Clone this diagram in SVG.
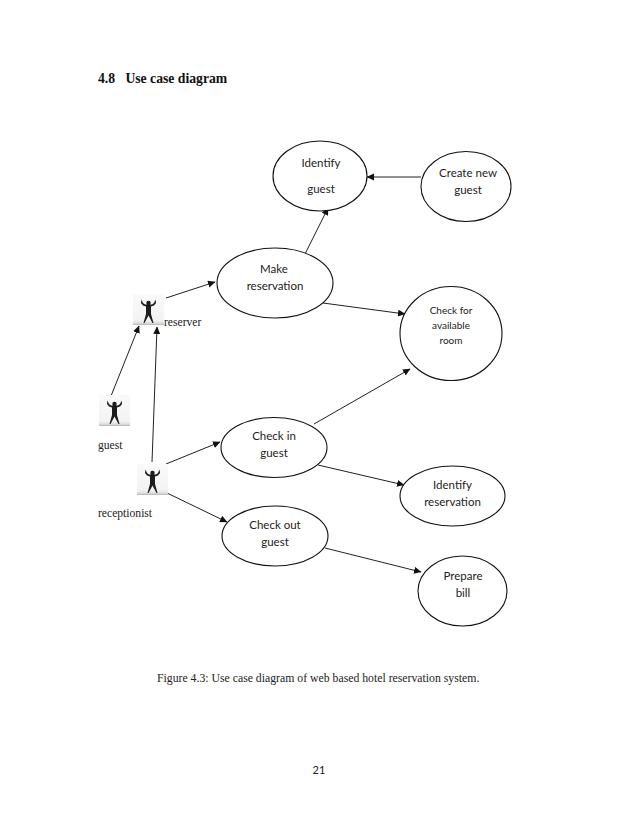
<svg xmlns="http://www.w3.org/2000/svg" width="638" height="826" viewBox="0 0 638 826">
<style>
.n{fill:#fff;stroke:#111;stroke-width:1.1}
.c{stroke:#222;stroke-width:1;fill:none;marker-end:url(#a)}
.t{font-family:Lato,"Open Sans",sans-serif;font-size:11.5px;fill:#222;text-anchor:middle}
.s{font-family:Lato,"Open Sans",sans-serif;font-size:10px;fill:#222;text-anchor:middle}
.r{font-family:"Liberation Serif",serif;font-size:11.6px;fill:#222}
</style>
<defs>
<marker id="a" markerWidth="8" markerHeight="8" refX="7" refY="3.5" orient="auto" markerUnits="userSpaceOnUse"><path d="M0 0L7.500 3.500L0 7Z" fill="#111"/></marker>
<linearGradient id="g" x1="0" y1="0" x2="0" y2="1"><stop offset="0" stop-color="#fafafa"/><stop offset=".84" stop-color="#f3f3f3"/><stop offset=".94" stop-color="#dedede"/><stop offset="1" stop-color="#b4b4b4"/></linearGradient>
<filter id="b" x="-10%" y="-10%" width="120%" height="120%"><feGaussianBlur stdDeviation=".4"/></filter>
<symbol id="p" width="31" height="31" viewBox="0 0 31 31" overflow="visible">
<rect width="31" height="31" fill="url(#g)"/>
<g filter="url(#b)"><path d="M8.500 5.500L8 9L10 11.500L13 12.500L13 20L10.500 29L11.500 29L15.500 21.500L19.500 29L20.500 29L18 20L18 12.500L21 11.500L23 9L22.500 5.500L21 9L19 10.500L12 10.500L10 9Z" fill="#1a1a1a"/><circle cx="15.500" cy="9" r="2.200" fill="#1a1a1a"/></g>
</symbol>
</defs>
<rect width="638" height="826" fill="#fff"/>
<text x="98" y="83" font-family="Liberation Serif, serif" font-size="13.700" font-weight="700" fill="#111" xml:space="preserve">4.8   Use case diagram</text>
<g id="connectors">
<path class="c" d="M166 298L215 282"/>
<path class="c" d="M111 396L139 326"/>
<path class="c" d="M152 462L157 327"/>
<path class="c" d="M166 464L220 442"/>
<path class="c" d="M167 493L227 522"/>
<path class="c" d="M305 254L328 208"/>
<path class="c" d="M421 177L367 177"/>
<path class="c" d="M323 303L405 314"/>
<path class="c" d="M314 424L410 369"/>
<path class="c" d="M318 465L404 485"/>
<path class="c" d="M325 548L421 572"/>
</g>
<g id="reserver"><use href="#p" x="133" y="294"/><text class="r" x="164" y="326">reserver</text></g>
<g id="guest"><use href="#p" x="99" y="395"/><text class="r" x="98" y="449">guest</text></g>
<g id="receptionist"><use href="#p" x="137" y="464"/><text class="r" x="98" y="517">receptionist</text></g>
<g id="identify-guest"><ellipse class="n" cx="320" cy="176" rx="47" ry="35"/><text class="t" x="321" y="167">Identify</text><text class="t" x="321" y="193">guest</text></g>
<g id="create-new-guest"><ellipse class="n" cx="466" cy="186.500" rx="45" ry="35"/><text class="t" x="468" y="177">Create new</text><text class="t" x="468" y="194">guest</text></g>
<g id="make-reservation"><ellipse class="n" cx="275" cy="283" rx="58" ry="35"/><text class="t" x="274" y="273">Make</text><text class="t" x="275" y="290">reservation</text></g>
<g id="check-available-room"><ellipse class="n" cx="451" cy="333.500" rx="51" ry="47"/><text class="s" x="451" y="314">Check for</text><text class="s" x="451" y="329">available</text><text class="s" x="451" y="344">room</text></g>
<g id="check-in-guest"><ellipse class="n" cx="274" cy="447.500" rx="53" ry="30"/><text class="t" x="274" y="440">Check in</text><text class="t" x="274" y="457">guest</text></g>
<g id="identify-reservation"><ellipse class="n" cx="452.500" cy="496" rx="52.500" ry="30"/><text class="t" x="452.500" y="489">Identify</text><text class="t" x="452.500" y="506">reservation</text></g>
<g id="check-out-guest"><ellipse class="n" cx="275" cy="536" rx="53" ry="30"/><text class="t" x="275" y="529">Check out</text><text class="t" x="275" y="546">guest</text></g>
<g id="prepare-bill"><ellipse class="n" cx="462.500" cy="591" rx="44.500" ry="35"/><text class="t" x="463" y="580">Prepare</text><text class="t" x="463" y="597">bill</text></g>
<text x="157" y="682" font-family="Liberation Serif, serif" font-size="11.750" fill="#222">Figure 4.3: Use case diagram of web based hotel reservation system.</text>
<text x="319" y="774" font-family="Lato, sans-serif" font-size="11px" fill="#222" text-anchor="middle">21</text>
</svg>
